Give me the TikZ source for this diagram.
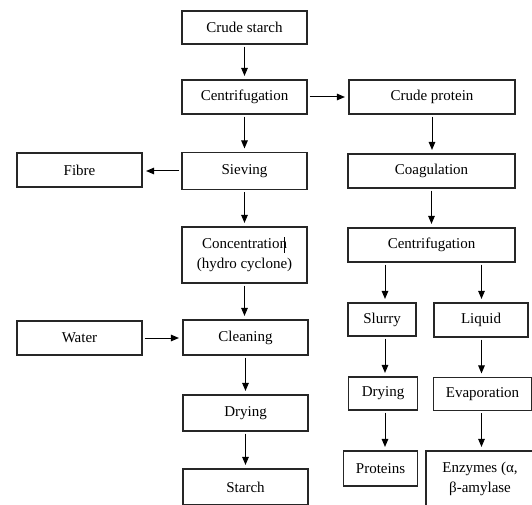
\documentclass[tikz,border=0pt]{standalone}
\usepackage{fontspec}
\setmainfont{Liberation Serif}
\usetikzlibrary{arrows.meta}
\begin{document}
\begin{tikzpicture}[x=1pt,y=-1pt,
  box/.style={draw=black!85, line width=1.1pt, inner sep=0pt, align=center,
    font=\fontsize{15}{20.5}\selectfont},
  arr/.style={-{Triangle[length=8pt,width=6.5pt]}, line width=1pt,
    shorten <=2pt, shorten >=3.5pt}]
\useasboundingbox (0,0) rectangle (532,505);
\clip (0,0) rectangle (532,505);
% left column
\node[box, minimum width=125pt, minimum height=33pt] (cs) at (244.5,27.5) {Crude starch};
\node[box, minimum width=125pt, minimum height=34pt] (c1) at (244.5,97) {Centrifugation};
\node[box, minimum width=125pt, minimum height=37pt] (sv) at (244.5,171) {Sieving};
\node[box, minimum width=125pt, minimum height=34pt] (fb) at (79.5,170) {Fibre};
\node[box, minimum width=125pt, minimum height=56pt] (cc) at (244.5,255) {Concentration\\(hydro cyclone)};
\node[box, minimum width=125pt, minimum height=34pt] (wt) at (79.5,338) {Water};
\node[box, minimum width=125pt, minimum height=35pt] (cl) at (245.5,337.5) {Cleaning};
\node[box, minimum width=125pt, minimum height=36pt] (dr) at (245.5,413) {Drying};
\node[box, minimum width=125pt, minimum height=36pt] (st) at (245.5,487) {Starch};
% right column
\node[box, minimum width=166pt, minimum height=34pt] (cp) at (432,97) {Crude protein};
\node[box, minimum width=167pt, minimum height=34pt] (cg) at (431.5,171) {Coagulation};
\node[box, minimum width=167pt, minimum height=34pt] (c2) at (431.5,245) {Centrifugation};
\node[box, minimum width=68pt, minimum height=33pt] (sl) at (382,319.5) {Slurry};
\node[box, minimum width=94pt, minimum height=34pt] (lq) at (481,320) {Liquid};
\node[box, minimum width=69pt, minimum height=33pt] (d2) at (383,393.5) {Drying};
\node[box, minimum width=98pt, minimum height=33pt] (ev) at (482.5,394) {Evaporation};
\node[box, minimum width=74pt, minimum height=35pt] (pr) at (380.5,468.5) {Proteins};
\node[box, minimum width=108pt, minimum height=56pt] (ez) at (480,479) {Enzymes (α,\\β-amylase};
% cursor mark
\draw[line width=0.9pt] (284,237) -- (284,253);
\coordinate (xa) at (385,0);
\coordinate (xb) at (481.5,0);
% connectors
\draw[arr] (cs.south) -- (c1.north);
\draw[arr] (c1.east) -- (cp.west);
\draw[arr] (c1.south) -- (sv.north);
\draw[arr] (sv.west) -- (sv.west -| fb.east);
\draw[arr] (sv.south) -- (cc.north);
\draw[arr] (cc.south) -- (cc.south |- cl.north);
\draw[arr] (wt.east) -- (wt.east -| cl.west);
\draw[arr] (cl.south) -- (dr.north);
\draw[arr] (dr.south) -- (st.north);
\draw[arr] (cp.south) -- (cp.south |- cg.north);
\draw[arr] (cg.south) -- (c2.north);
\draw[arr] (c2.south -| xa) -- (sl.north -| xa);
\draw[arr] (c2.south -| xb) -- (lq.north -| xb);
\draw[arr] (sl.south -| xa) -- (d2.north -| xa);
\draw[arr] (lq.south -| xb) -- (ev.north -| xb);
\draw[arr] (d2.south -| xa) -- (pr.north -| xa);
\draw[arr] (ev.south -| xb) -- (ez.north -| xb);
\end{tikzpicture}
\end{document}
